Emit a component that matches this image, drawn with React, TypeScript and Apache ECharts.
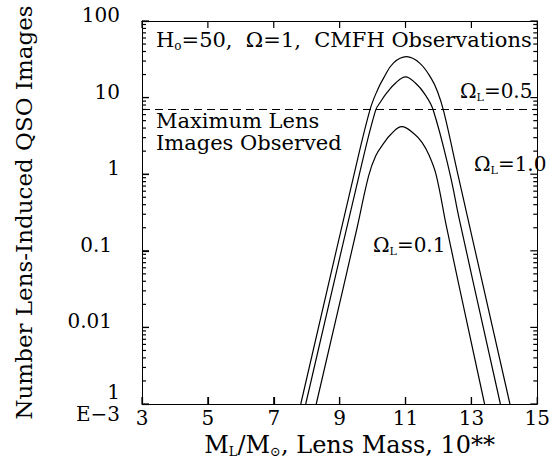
import React, { useEffect, useRef } from 'react';
import * as echarts from 'echarts';

// Axis ticks and labels
const xTickValues = [3, 5, 7, 9, 11, 13, 15];
const yTickValues = [0.001, 0.01, 0.1, 1, 10, 100];
const yTickLabels = ['1\nE−3', '0.01', '0.1', '1', '10', '100'];
const yDecades = [0.001, 0.01, 0.1, 1, 10];
const yMinorMultipliers = [2, 3, 4, 5, 6, 7, 8, 9];

// Ω_L = 1.0 (outer curve)
const massOmegaL10 = [7.82, 9.44, 9.92, 10.15, 10.33, 10.63, 11.03, 11.43, 11.78, 11.97, 12.16, 12.6, 14.17];
const imagesOmegaL10 = [0.001, 1.0, 6.9, 12.6, 17.8, 28.2, 34.2, 28.2, 17.8, 12.0, 6.6, 0.95, 0.001];

// Ω_L = 0.5 (middle curve)
const massOmegaL05 = [7.97, 9.6, 10.09, 10.25, 10.43, 10.7, 11.0, 11.3, 11.58, 11.84, 12.34, 12.64, 13.88];
const imagesOmegaL05 = [0.001, 1.0, 6.8, 8.9, 11.5, 15.5, 18.7, 15.5, 11.2, 6.9, 1.05, 0.25, 0.001];

// Ω_L = 0.1 (inner curve)
const massOmegaL01 = [8.29, 9.53, 9.88, 10.1, 10.33, 10.55, 10.89, 11.25, 11.5, 11.72, 11.93, 12.25, 13.4];
const imagesOmegaL01 = [0.001, 0.2, 0.95, 1.75, 2.5, 3.3, 4.17, 3.4, 2.6, 1.75, 0.98, 0.2, 0.001];

const maxImagesObserved = 7;

const FONT = 'DejaVu Serif';

export default function App() {
  const ref = useRef<HTMLDivElement>(null);

  useEffect(() => {
    const chart = echarts.init(ref.current!, null, { renderer: 'svg' });
    const yMinor = yDecades.flatMap((d) => yMinorMultipliers.map((m) => +(d * m).toPrecision(6)));
    const pairs = (xs: number[], ys: number[]) => xs.map((x, i) => [x, ys[i]]);
    const xMin = xTickValues[0];
    const xMax = xTickValues[xTickValues.length - 1];
    const yMin = yTickValues[0];
    const yMax = yTickValues[yTickValues.length - 1];

    // tick items on the frame: [x, y, length, side]  side: 0 left, 1 right, 2 bottom, 3 top
    const tickData = [
      ...yTickValues.map((v) => [xMin, v, 7, 0]),
      ...yMinor.map((v) => [xMin, v, 4, 0]),
      ...yTickValues.map((v) => [xMax, v, 7, 1]),
      ...yMinor.map((v) => [xMax, v, 4, 1]),
      ...xTickValues.map((v) => [v, yMin, 7, 2]),
      ...xTickValues.map((v) => [v, yMax, 7, 3]),
    ];

    const yLabel = (v: number) => {
      const i = yTickValues.findIndex((t) => Math.abs(Math.log10(v) - Math.log10(t)) < 1e-6);
      if (i < 0) return '';
      const s = yTickLabels[i];
      if (i === 0) return '{e|' + s + '}';
      if (i === 1 || i === 2) return '{b|' + s + '}';
      return '{a|' + s + '}';
    };

    const axisLineStyle = () => ({ color: '#000', width: 1 });
    const tickLineStyle = () => ({ color: '#000', width: 1.2 });
    const lineCommon = {
      type: 'line' as const,
      showSymbol: false,
      smooth: 0.4,
      silent: true,
      lineStyle: { color: '#000', width: 1.2 },
      xAxisIndex: 0,
      yAxisIndex: 0,
    };

    chart.setOption({
      animation: false,
      grid: { left: 142, top: 21, right: 5, bottom: 66 },
      xAxis: [
        {
          type: 'value',
          min: xMin,
          max: xMax,
          position: 'bottom',
          name: '{i|M}{s|L}{i|/M}{s|⊙}{i|, Lens Mass, 10**}',
          nameLocation: 'middle',
          nameGap: 24,
          nameTextStyle: {
            padding: [0, 0, 0, 20],
            rich: {
              i: { fontFamily: FONT, fontSize: 24, color: '#000', lineHeight: 27 },
              s: { fontFamily: FONT, fontSize: 13, color: '#000', lineHeight: 13, verticalAlign: 'bottom' },
            },
          },
          splitLine: { show: false },
          axisLine: { show: true, lineStyle: axisLineStyle() },
          axisTick: { show: true, inside: true, length: 7, customValues: xTickValues, lineStyle: tickLineStyle() },
          axisLabel: {
            show: true,
            customValues: xTickValues,
            margin: 4,
            fontFamily: FONT,
            fontSize: 20,
            color: '#000',
          },
        },
        {
          type: 'value',
          min: xMin,
          max: xMax,
          position: 'top',
          splitLine: { show: false },
          axisLine: { show: true, lineStyle: axisLineStyle() },
          axisTick: { show: false },
          axisLabel: { show: false },
        },
      ],
      yAxis: [
        {
          type: 'log',
          min: yMin,
          max: yMax,
          position: 'left',
          name: 'Number Lens-Induced QSO Images',
          nameLocation: 'middle',
          nameRotate: 90,
          nameGap: 107,
          nameTextStyle: { fontFamily: FONT, fontSize: 23, color: '#000' },
          splitLine: { show: false },
          axisLine: { show: true, lineStyle: axisLineStyle() },
          axisTick: { show: true, inside: true, length: 7, customValues: yTickValues, lineStyle: tickLineStyle() },
          axisLabel: {
            show: true,
            customValues: yTickValues,
            margin: 22,
            formatter: yLabel,
            rich: {
              a: { fontFamily: FONT, fontSize: 20, color: '#000', padding: [0, 0, 12, 0] },
              b: { fontFamily: FONT, fontSize: 20, color: '#000', padding: [0, 8, 12, 0] },
              e: { fontFamily: FONT, fontSize: 20, color: '#000', lineHeight: 22, padding: [0, 0, 3, 0] },
            },
          },
        },
        {
          type: 'log',
          min: yMin,
          max: yMax,
          position: 'right',
          splitLine: { show: false },
          axisLine: { show: true, lineStyle: axisLineStyle() },
          axisTick: { show: false },
          axisLabel: { show: false },
        },
      ],
      series: [
        {
          ...lineCommon,
          name: 'ΩL=1.0',
          data: pairs(massOmegaL10, imagesOmegaL10),
          markLine: {
            silent: true,
            symbol: ['none', 'none'],
            label: { show: false },
            lineStyle: { color: '#000', type: [8, 5], width: 1 },
            data: [{ yAxis: maxImagesObserved }],
          },
        },
        { ...lineCommon, name: 'ΩL=0.5', data: pairs(massOmegaL05, imagesOmegaL05) },
        { ...lineCommon, name: 'ΩL=0.1', data: pairs(massOmegaL01, imagesOmegaL01) },
        {
          type: 'custom',
          name: 'ticks',
          silent: true,
          clip: false,
          z: 5,
          xAxisIndex: 0,
          yAxisIndex: 0,
          data: tickData,
          renderItem: (_params: any, api: any) => {
            const p = api.coord([api.value(0), api.value(1)]);
            const len = api.value(2);
            const side = api.value(3);
            const w = 1.2;
            let shape;
            if (side === 0) shape = { x: p[0], y: p[1] - w / 2, width: len, height: w };
            else if (side === 1) shape = { x: p[0] - len, y: p[1] - w / 2, width: len, height: w };
            else if (side === 2) shape = { x: p[0] - w / 2, y: p[1] - len, width: w, height: len };
            else shape = { x: p[0] - w / 2, y: p[1], width: w, height: len };
            return { type: 'rect', shape, style: { fill: '#000' } };
          },
        },
      ],
      graphic: [
        {
          type: 'text',
          left: 156,
          top: 29,
          style: {
            text: '{n|H}{o|o}{n|=50,  Ω=1,  CMFH Observations}',
            rich: {
              n: { fontFamily: FONT, fontSize: 21, fill: '#000', lineHeight: 24 },
              o: { fontFamily: FONT, fontSize: 12, fill: '#000', lineHeight: 17, verticalAlign: 'bottom' },
            },
          },
        },
        {
          type: 'text',
          left: 156,
          top: 110,
          style: { text: 'Maximum Lens', fontFamily: FONT, fontSize: 21, lineHeight: 22, fill: '#000' },
        },
        {
          type: 'text',
          left: 156,
          top: 132,
          style: { text: 'Images Observed', fontFamily: FONT, fontSize: 21, lineHeight: 22, fill: '#000' },
        },
        {
          type: 'text',
          left: 460,
          top: 81,
          style: {
            text: '{n|Ω}{s|L}{n|=0.5}',
            rich: {
              n: { fontFamily: FONT, fontSize: 20, fill: '#000', lineHeight: 24 },
              s: { fontFamily: FONT, fontSize: 11, fill: '#000', lineHeight: 11, verticalAlign: 'bottom' },
            },
          },
        },
        {
          type: 'text',
          left: 474,
          top: 154,
          style: {
            text: '{n|Ω}{s|L}{n|=1.0}',
            rich: {
              n: { fontFamily: FONT, fontSize: 20, fill: '#000', lineHeight: 24 },
              s: { fontFamily: FONT, fontSize: 11, fill: '#000', lineHeight: 11, verticalAlign: 'bottom' },
            },
          },
        },
        {
          type: 'text',
          left: 373,
          top: 235,
          style: {
            text: '{n|Ω}{s|L}{n|=0.1}',
            rich: {
              n: { fontFamily: FONT, fontSize: 20, fill: '#000', lineHeight: 24 },
              s: { fontFamily: FONT, fontSize: 11, fill: '#000', lineHeight: 11, verticalAlign: 'bottom' },
            },
          },
        },
      ],
    });

    return () => chart.dispose();
  }, []);

  return (
    <div
      ref={ref}
      style={{ position: 'fixed', left: 0, top: 0, width: 553, height: 470, background: '#fff' }}
    />
  );
}
